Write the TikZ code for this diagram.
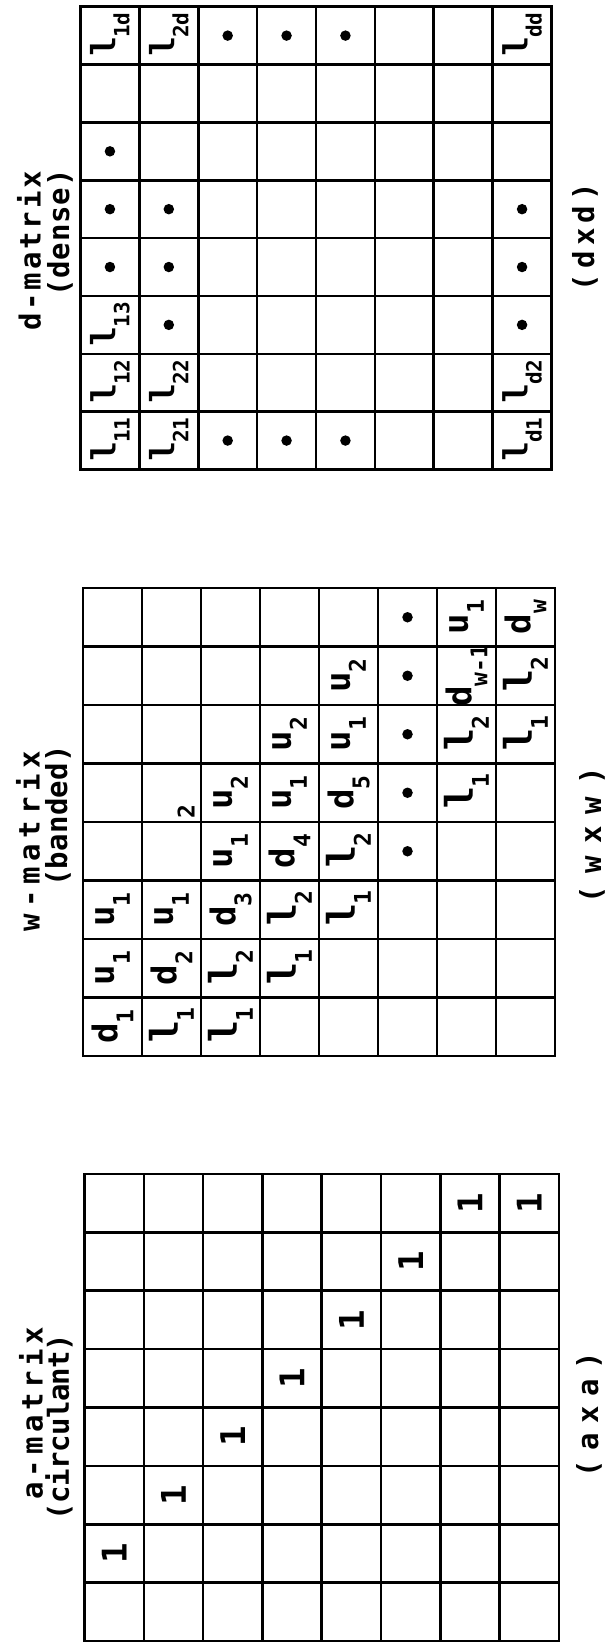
\documentclass[tikz,border=0pt]{standalone}
\usepackage{fontspec}
\newfontfamily\cellfont{DejaVu Sans Mono}
\newfontfamily\titlefont{DejaVu Sans Mono}
\newfontfamily\lfont{Liberation Mono}
\newcommand{\sbs}[2]{#1\raisebox{-16pt}{\fontsize{23}{23}\selectfont #2}}
\newcommand{\dsbs}[2]{#1\raisebox{-14pt}{\fontsize{21}{21}\selectfont #2}}
\newcommand{\Lw}{{\lfont\bfseries\fontsize{40}{40}\selectfont l}}
\newcommand{\Ld}{{\lfont\bfseries\fontsize{35}{35}\selectfont l}}
\begin{document}
\begin{tikzpicture}[x=1pt,y=-1pt,
  grid/.style={line width=2.6pt, line cap=rect},
  cell/.style={rotate=90, inner sep=0pt, font=\cellfont\bfseries\fontsize{34}{34}\selectfont},
  dcell/.style={rotate=90, inner sep=0pt, font=\cellfont\bfseries\fontsize{30}{30}\selectfont},
  subnum/.style={rotate=90, inner sep=0pt, font=\cellfont\bfseries\fontsize{23}{23}\selectfont},
  dotc/.style={circle, fill=black, inner sep=0pt, minimum size=10.5pt},
  ttl/.style={rotate=90, inner sep=0pt, font=\titlefont\bfseries\fontsize{29}{29}\selectfont},
]
\useasboundingbox (0,0) rectangle (608,1645);

% ---------------- d-matrix (dense) ----------------
\begin{scope}[shift={(80.5,6.7)}, x=58.875pt, y=-57.85pt]
  \foreach \i in {0,...,8} {
    \draw[grid] (\i,0) -- (\i,8);
    \draw[grid] (0,\i) -- (8,\i);
  }
  \foreach \c/\r/\t [count=\k] in {1/1/\dsbs{\Ld}{1d}, 1/6/\dsbs{\Ld}{13}, 1/7/\dsbs{\Ld}{12}, 1/8/\dsbs{\Ld}{11},
      2/1/\dsbs{\Ld}{2d}, 2/7/\dsbs{\Ld}{22}, 2/8/\dsbs{\Ld}{21},
      8/1/\dsbs{\Ld}{dd}, 8/7/\dsbs{\Ld}{d2}, 8/8/\dsbs{\Ld}{d1}}
    \node[dcell] (d\k) at (\c-0.5,\r-0.5) {\t};
  \foreach \c/\r [count=\k] in {1/3,1/4,1/5,2/4,2/5,2/6,3/1,3/8,4/1,4/8,5/1,5/8,8/4,8/5,8/6}
    \node[dotc] (ddot\k) at (\c-0.5,\r-0.5) {};
\end{scope}
\node[ttl] (dtitle) at (29,251) {\addfontfeatures{LetterSpace=10}d-matrix};
\node[ttl] (dsub) at (60,233) {\addfontfeatures{LetterSpace=3}(dense)};
\node[ttl] (ddim) at (585,237) {\addfontfeatures{LetterSpace=18}(dxd)};

% ---------------- w-matrix (banded) ----------------
\begin{scope}[shift={(83,588)}, x=59pt, y=-58.5pt]
  \foreach \i in {0,...,8} {
    \draw[grid] (\i,0) -- (\i,8);
    \draw[grid] (0,\i) -- (8,\i);
  }
  \foreach \c/\r/\t [count=\k] in {1/8/\sbs{d}{1}, 1/7/\sbs{u}{1}, 1/6/\sbs{u}{1},
      2/8/\sbs{\Lw}{1}, 2/7/\sbs{d}{2}, 2/6/\sbs{u}{1},
      3/8/\sbs{\Lw}{1}, 3/7/\sbs{\Lw}{2}, 3/6/\sbs{d}{3}, 3/5/\sbs{u}{1}, 3/4/\sbs{u}{2},
      4/7/\sbs{\Lw}{1}, 4/6/\sbs{\Lw}{2}, 4/5/\sbs{d}{4}, 4/4/\sbs{u}{1}, 4/3/\sbs{u}{2},
      5/6/\sbs{\Lw}{1}, 5/5/\sbs{\Lw}{2}, 5/4/\sbs{d}{5}, 5/3/\sbs{u}{1}, 5/2/\sbs{u}{2},
      7/4/\sbs{\Lw}{1}, 7/3/\sbs{\Lw}{2}, 7/2/\sbs{d}{w-1}, 7/1/\sbs{u}{1},
      8/3/\sbs{\Lw}{1}, 8/2/\sbs{\Lw}{2}, 8/1/\sbs{d}{w}}
    \node[cell] (w\k) at (\c-0.5,\r-0.5) {\t};
  \foreach \r in {1,...,5}
    \node[dotc] (wdot\r) at (5.5,\r-0.5) {};
\end{scope}
\node[subnum] (wstray) at (186,812) {2};
\node[ttl] (wtitle) at (28,841) {\addfontfeatures{LetterSpace=20}w-matrix};
\node[ttl] (wsub) at (58,816) {\addfontfeatures{LetterSpace=1}(banded)};
\node[ttl] (wdim) at (592,835) {\addfontfeatures{LetterSpace=42}(wxw)};

% ---------------- a-matrix (circulant) ----------------
\begin{scope}[shift={(84.5,1174)}, x=59.31pt, y=-58.375pt]
  \foreach \i in {0,...,8} {
    \draw[grid] (\i,0) -- (\i,8);
    \draw[grid] (0,\i) -- (8,\i);
  }
  \foreach \c/\r [count=\k] in {1/7,2/6,3/5,4/4,5/3,6/2,7/1,8/1}
    \node[cell] (a\k) at (\c-0.5,\r-0.5) {1};
\end{scope}
\node[ttl] (atitle) at (31,1413) {\addfontfeatures{LetterSpace=16}a-matrix};
\node[ttl] (asub) at (59,1427) {\addfontfeatures{LetterSpace=-2}(circulant)};
\node[ttl] (adim) at (589,1415) {\addfontfeatures{LetterSpace=33}(axa)};
\end{tikzpicture}
\end{document}
